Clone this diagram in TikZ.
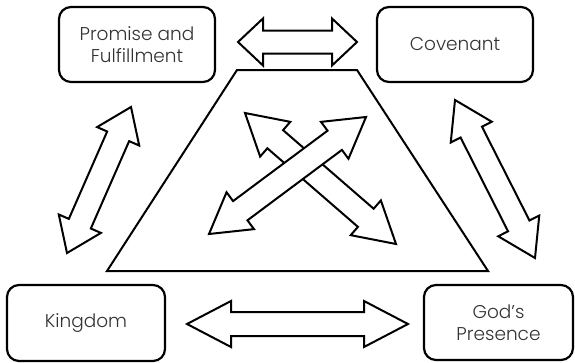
\documentclass[tikz,border=0pt]{standalone}
\usepackage{fontspec}
\setmainfont{Poppins}[UprightFont=* Light]
\usetikzlibrary{calc}
\definecolor{txtgray}{HTML}{333333}
\tikzset{
  box/.style={draw=black, line width=2.2pt, rounded corners=12pt, align=center,
    text=txtgray, font=\fontsize{18.5}{21.5}\selectfont, inner sep=0pt},
  blk/.style={draw=black, line width=2pt, fill=white, line join=miter},
  trap/.style={draw=black, line width=2pt, line join=miter},
}
% #1 tip, #2 other tip, #3 shaft half width, #4 head half width, #5 head length
\newcommand\blockarrow[5]{%
  \coordinate (hA) at ($(#1)!#5!(#2)$);
  \coordinate (hB) at ($(#2)!#5!(#1)$);
  \draw[blk] (#1)
    -- ($(hA)!#4!90:(#2)$) -- ($(hA)!#3!90:(#2)$)
    -- ($(hB)!#3!-90:(#1)$) -- ($(hB)!#4!-90:(#1)$)
    -- (#2)
    -- ($(hB)!#4!90:(#1)$) -- ($(hB)!#3!90:(#1)$)
    -- ($(hA)!#3!-90:(#2)$) -- ($(hA)!#4!-90:(#2)$)
    -- cycle;}
\begin{document}
\begin{tikzpicture}[x=1pt,y=-1pt]
\useasboundingbox (0,0) rectangle (575,362);
% boxes
\node[box, minimum width=156pt, minimum height=75pt] (pf) at (137,44.5) {Promise and\\Fulfillment};
\node[box, minimum width=156pt, minimum height=75pt] (cov) at (455,44.5) {Covenant};
\node[box, minimum width=158pt, minimum height=76pt] (kin) at (86,323) {Kingdom};
\node[box, minimum width=149pt, minimum height=75pt] (gp) at (498.5,322.5) {God's\\Presence};
% trapezoid
\coordinate (t1) at (237,70);
\coordinate (t2) at (357,70);
\coordinate (t3) at (488,271);
\coordinate (t4) at (107,271);
\draw[trap] (t1) -- (t2) -- (t3) -- (t4) -- cycle;
% arrow tips
\coordinate (topL) at (238,42);
\coordinate (topR) at (357,42);
\coordinate (botL) at (187,324);
\coordinate (botR) at (408,324);
\coordinate (lfT) at (131,107);
\coordinate (lfB) at (67,253);
\coordinate (rtT) at (455,100);
\coordinate (rtB) at (535,258);
\coordinate (xa1) at (245,113);
\coordinate (xa2) at (396,244);
\coordinate (xb1) at (209,234);
\coordinate (xb2) at (366,117);
% arrows
\blockarrow{topL}{topR}{11.5pt}{23.5pt}{25pt}
\blockarrow{botL}{botR}{12pt}{23pt}{44pt}
\blockarrow{lfT}{lfB}{12pt}{23pt}{32pt}
\blockarrow{rtT}{rtB}{12pt}{23pt}{36pt}
\blockarrow{xa1}{xa2}{12pt}{23pt}{40pt}
\blockarrow{xb1}{xb2}{12pt}{23pt}{39pt}
\end{tikzpicture}
\end{document}
